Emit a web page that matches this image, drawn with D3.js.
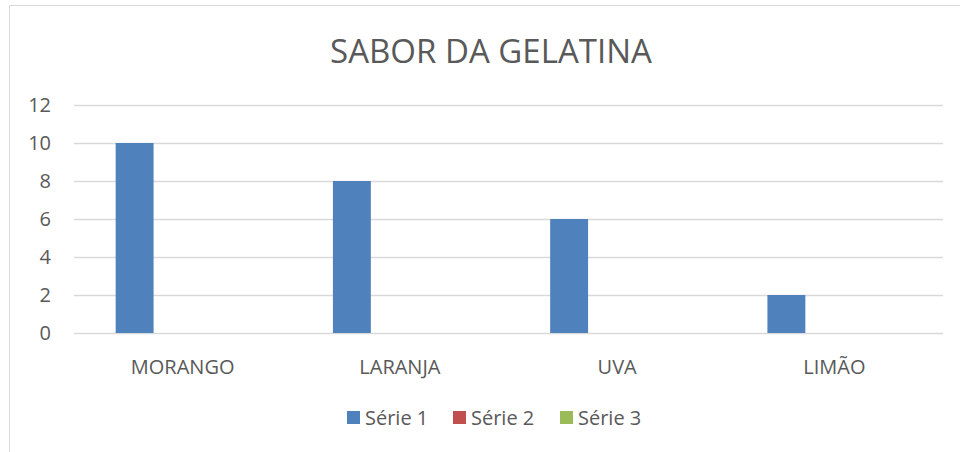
<!DOCTYPE html>
<html lang="pt">
  <head>
    <meta charset="UTF-8" />
    <title>Sabor da gelatina</title>
    <style>
      body { margin: 0; background: #fff; }
      text { font-family: "Open Sans", sans-serif; fill: #595959; }
    </style>
  </head>
  <body>
    <svg id="svg" width="960" height="452"></svg>

    <script src="https://cdn.jsdelivr.net/npm/d3@7"></script>
    <script>
      const WIDTH = 960;
      const HEIGHT = 452;

      const categories = ["MORANGO", "LARANJA", "UVA", "LIMÃO"];
      const seriesNames = ["Série 1", "Série 2", "Série 3"];
      const serie1 = [10, 8, 6, 2];
      const serie2 = [0, 0, 0, 0];
      const serie3 = [0, 0, 0, 0];
      const yTicks = [0, 2, 4, 6, 8, 10, 12];
      const colors = ["#4f81bd", "#c0504d", "#9bbb59"];

      const allSeries = [serie1, serie2, serie3];
      const rows = categories.map((c, i) => ({
        cat: c,
        values: seriesNames.map((s, j) => ({ name: s, value: allSeries[j][i] }))
      }));

      const plot = { left: 74, right: 943, top: 105, bottom: 333 };

      const svg = d3.select("#svg");

      // chart frame
      svg.append("rect")
        .attr("x", 9.5).attr("y", 5.5)
        .attr("width", WIDTH).attr("height", HEIGHT)
        .attr("fill", "none")
        .attr("stroke", "#d9d9d9");

      svg.append("text")
        .attr("x", 491).attr("y", 63)
        .attr("text-anchor", "middle")
        .style("font-size", "33px")
        .text("SABOR DA GELATINA");

      const x0 = d3.scaleBand()
        .domain(categories)
        .range([plot.left, plot.right])
        .padding(0);

      const x1 = d3.scaleBand()
        .domain(seriesNames)
        .range([0, x0.bandwidth()])
        .paddingInner(0.21)
        .paddingOuter(0.868);

      const y = d3.scaleLinear()
        .domain([0, 12])
        .range([plot.bottom, plot.top]);

      // gridlines
      svg.append("g")
        .selectAll("line")
        .data(yTicks)
        .enter()
        .append("line")
        .attr("x1", plot.left).attr("x2", plot.right)
        .attr("y1", (d) => Math.round(y(d)) + 0.5)
        .attr("y2", (d) => Math.round(y(d)) + 0.5)
        .attr("stroke", "#d9d9d9")
        .attr("stroke-width", 1.3);

      // y axis labels
      const leftAxis = d3.axisLeft(y).tickValues(yTicks).tickSize(0).tickPadding(0);
      const ga = svg.append("g")
        .attr("transform", `translate(51, 0)`)
        .call(leftAxis);
      ga.select(".domain").remove();
      ga.selectAll("text")
        .style("font-size", "20px")
        .style("font-family", null)
        .attr("fill", "#595959");

      // bars
      svg.append("g")
        .selectAll("g")
        .data(rows)
        .enter()
        .append("g")
        .attr("transform", (d) => `translate(${x0(d.cat)}, 0)`)
        .selectAll("rect")
        .data((d) => d.values)
        .enter()
        .append("rect")
        .attr("x", (d) => x1(d.name))
        .attr("width", x1.bandwidth())
        .attr("y", (d) => y(d.value))
        .attr("height", (d) => y(0) - y(d.value))
        .attr("fill", (d, i) => colors[i]);

      // category labels
      const bottomAxis = d3.axisBottom(x0).tickSize(0).tickPadding(0);
      const gb = svg.append("g")
        .attr("transform", `translate(0, 374)`)
        .call(bottomAxis);
      gb.select(".domain").remove();
      gb.selectAll("text")
        .attr("dy", 0)
        .style("font-size", "20px")
        .style("font-family", null)
        .attr("fill", "#595959");

      // legend
      const legendX = [347, 453, 560];
      const legend = svg.append("g")
        .selectAll("g")
        .data(seriesNames)
        .enter()
        .append("g")
        .attr("transform", (d, i) => `translate(${legendX[i]}, 411)`);
      legend.append("rect")
        .attr("width", 13).attr("height", 13)
        .attr("fill", (d, i) => colors[i]);
      legend.append("text")
        .attr("x", 18).attr("y", 14)
        .style("font-size", "20px")
        .text((d) => d);
    </script>
  </body>
</html>
